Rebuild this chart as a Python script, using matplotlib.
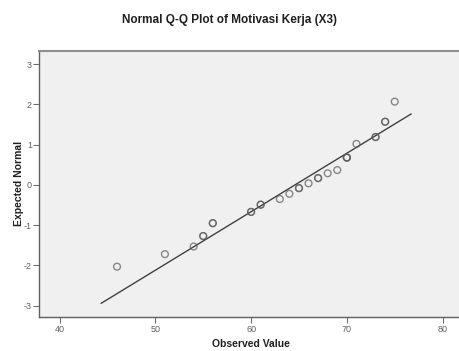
import matplotlib
matplotlib.use('Agg')
import matplotlib.pyplot as plt
import numpy as np

observed = [46, 51, 54, 55, 56, 60, 61, 63, 64, 65, 66, 67, 68, 69, 70, 71, 73, 74, 75]
expected = [-2.03, -1.72, -1.53, -1.27, -0.95, -0.67, -0.49, -0.35, -0.22, -0.08, 0.04,
            0.17, 0.29, 0.37, 0.68, 1.02, 1.19, 1.57, 2.07]
# how many cases sit on each point (darker rings = overlaps)
counts = [1, 1, 1, 2, 2, 2, 2, 1, 1, 2, 1, 2, 1, 1, 3, 1, 2, 2, 1]

# reference line: mean / sd of the sample and its x span
mean_x = 64.58
sd_x = 6.88
line_x = [44.35, 76.7]

xticks = [40, 50, 60, 70, 80]
yticks = [-3, -2, -1, 0, 1, 2, 3]

plt.rcParams['font.family'] = ['Liberation Sans', 'DejaVu Sans']
plt.rcParams['axes.unicode_minus'] = False

fig = plt.figure(figsize=(4.59, 3.51), dpi=100)
ax = fig.add_axes([0.086, 0.097, 0.92, 0.758])
ax.set_facecolor('#f0f0f0')

lx = np.array(line_x)
ax.plot(lx, (lx - mean_x) / sd_x, color='#404040', linewidth=1.0, zorder=2)

for x, y, n in zip(observed, expected, counts):
    ax.scatter([x] * n, [y] * n, s=24, facecolors='none', edgecolors='#5a5a5a',
               linewidths=1.0, alpha=0.7, zorder=3)

ax.set_xlim(37.9, 82.0)
ax.set_ylim(-3.28, 3.33)
ax.set_xticks(xticks)
ax.set_yticks(yticks)
ax.tick_params(direction='out', length=4, width=0.8, color='#707070',
               labelcolor='#606060', labelsize=6.5, pad=1.5)

for s in ['left', 'bottom']:
    ax.spines[s].set_color('#606060')
    ax.spines[s].set_linewidth(1.0)
ax.spines['top'].set_color('#909090')
ax.spines['top'].set_linewidth(1.5)
ax.spines['right'].set_visible(False)

ax.set_xlabel('Observed Value', fontsize=7.5, fontweight='bold', color='#202020', labelpad=4)
ax.set_ylabel('Expected Normal', fontsize=7.5, fontweight='bold', color='#202020', labelpad=0)
fig.text(0.5, 0.942, 'Normal Q-Q Plot of Motivasi Kerja (X3)', ha='center', va='center',
         fontsize=8.5, fontweight='bold', color='#202020')

fig.savefig('out.png', dpi=100, facecolor='white')
